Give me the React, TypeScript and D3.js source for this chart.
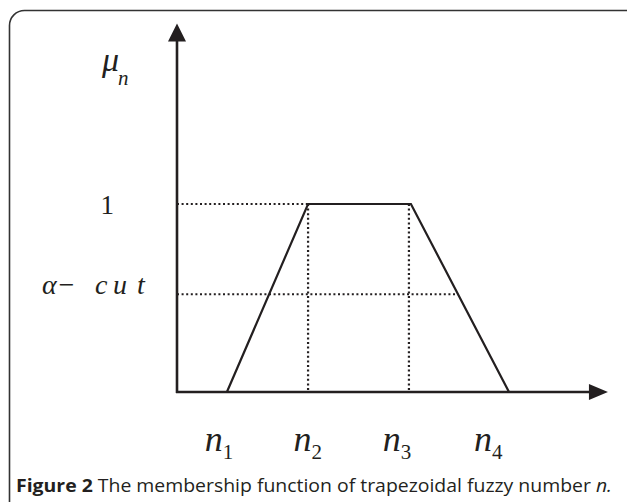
import React from "react";
import { scaleLinear, line } from "d3";

// trapezoid corners (abscissa in arbitrary units, membership 0..1)
const cornerX = [11.5, 30.2, 53.9, 76.5];
const cornerMu = [0, 1, 1, 0];
const subscripts = ["1", "2", "3", "4"];
// where the n_i labels sit under the axis
const labelX = [9.7, 30.1, 50.7, 71.7];
const alphaCut = 0.52;
const yLabels = [{ v: 1, text: "1" }];
const alphaParts = ["α−", "c", "u", "t"];
const caption = {
    bold: "Figure 2",
    rest: " The membership function of trapezoidal fuzzy number ",
    italic: "n.",
};

const W = 627;
const H = 502;
const ink = "#231f20";

const App: React.FC = () => {
    const x = scaleLinear().domain([0, 100]).range([177, 611]);
    const y = scaleLinear().domain([0, 1]).range([392, 204]);

    const pts: [number, number][] = cornerX.map((d, i) => [x(d), y(cornerMu[i])]);
    const trap = line()(pts) as string;

    // right edge of alpha cut on the falling side
    const aRight = cornerX[3] - (cornerX[3] - cornerX[2]) * alphaCut;

    const x0 = x(0);
    const y0 = y(0);
    const yTop = y(1.96);
    const xEnd = x(99.3);
    // hand-spaced letters of the alpha-cut label
    const alphaStart = [42, 95, 113, 137];

    return (
        <svg
            width={W}
            height={H}
            style={{ position: "absolute", left: 0, top: 0, background: "#fff" }}
        >
            <rect x={9.5} y={10.5} width={640} height={540} rx={15} fill="none" stroke="#333" strokeWidth={1.6} />

            {/* dotted guides */}
            <g stroke={ink} strokeWidth={2.2} strokeDasharray="2 2.6" fill="none">
                <line x1={x0} x2={x(cornerX[1])} y1={y(1)} y2={y(1)} />
                <line x1={x0} x2={x(aRight)} y1={y(alphaCut)} y2={y(alphaCut)} />
                <line x1={x(cornerX[1])} x2={x(cornerX[1])} y1={y(1)} y2={y0} />
                <line x1={x(cornerX[2]) - 2} x2={x(cornerX[2]) - 2} y1={y(1)} y2={y0} />
            </g>

            {/* axes */}
            <line x1={x0} x2={x0} y1={y0 + 1} y2={yTop + 16} stroke={ink} strokeWidth={2.6} />
            <path d={`M${x0 - 9},${yTop + 18} L${x0},${yTop} L${x0 + 9},${yTop + 18} Z`} fill={ink} />
            <line x1={x0 - 1} x2={xEnd - 16} y1={y0} y2={y0} stroke={ink} strokeWidth={2.6} />
            <path d={`M${xEnd - 19},${y0 - 8} L${xEnd},${y0} L${xEnd - 19},${y0 + 8} Z`} fill={ink} />

            {/* membership function */}
            <path d={trap} fill="none" stroke={ink} strokeWidth={2.2} strokeLinejoin="miter" />

            {/* labels */}
            <g fontFamily="'Liberation Serif', serif" fill={ink}>
                {yLabels.map(d => (
                    <text key={d.text} x={114} y={y(d.v) + 10} fontSize={27} textAnchor="end">
                        {d.text}
                    </text>
                ))}
                <text y={y(alphaCut)} fontSize={28} fontStyle="italic">
                    {alphaParts.map((p, i) => (
                        <tspan key={i} x={alphaStart[i]}>{p}</tspan>
                    ))}
                </text>
                <text x={102} y={71} fontSize={34} fontStyle="italic">μ</text>
                <text x={118} y={85} fontSize={21} fontStyle="italic">n</text>
                {labelX.map((d, i) => (
                    <text key={i} x={x(d)} y={451} fontSize={36} fontStyle="italic" textAnchor="middle">
                        n
                        <tspan fontSize={21} fontStyle="normal" dy={8}>{subscripts[i]}</tspan>
                    </text>
                ))}
            </g>

            <text
                x={16}
                y={492}
                fontFamily="'Open Sans', sans-serif"
                fontSize={17.5}
                fill={ink}
                textLength={596}
                lengthAdjust="spacingAndGlyphs"
            >
                <tspan fontWeight="bold">{caption.bold}</tspan>
                <tspan>{caption.rest}</tspan>
                <tspan fontStyle="italic">{caption.italic}</tspan>
            </text>
        </svg>
    );
};

export default App;
